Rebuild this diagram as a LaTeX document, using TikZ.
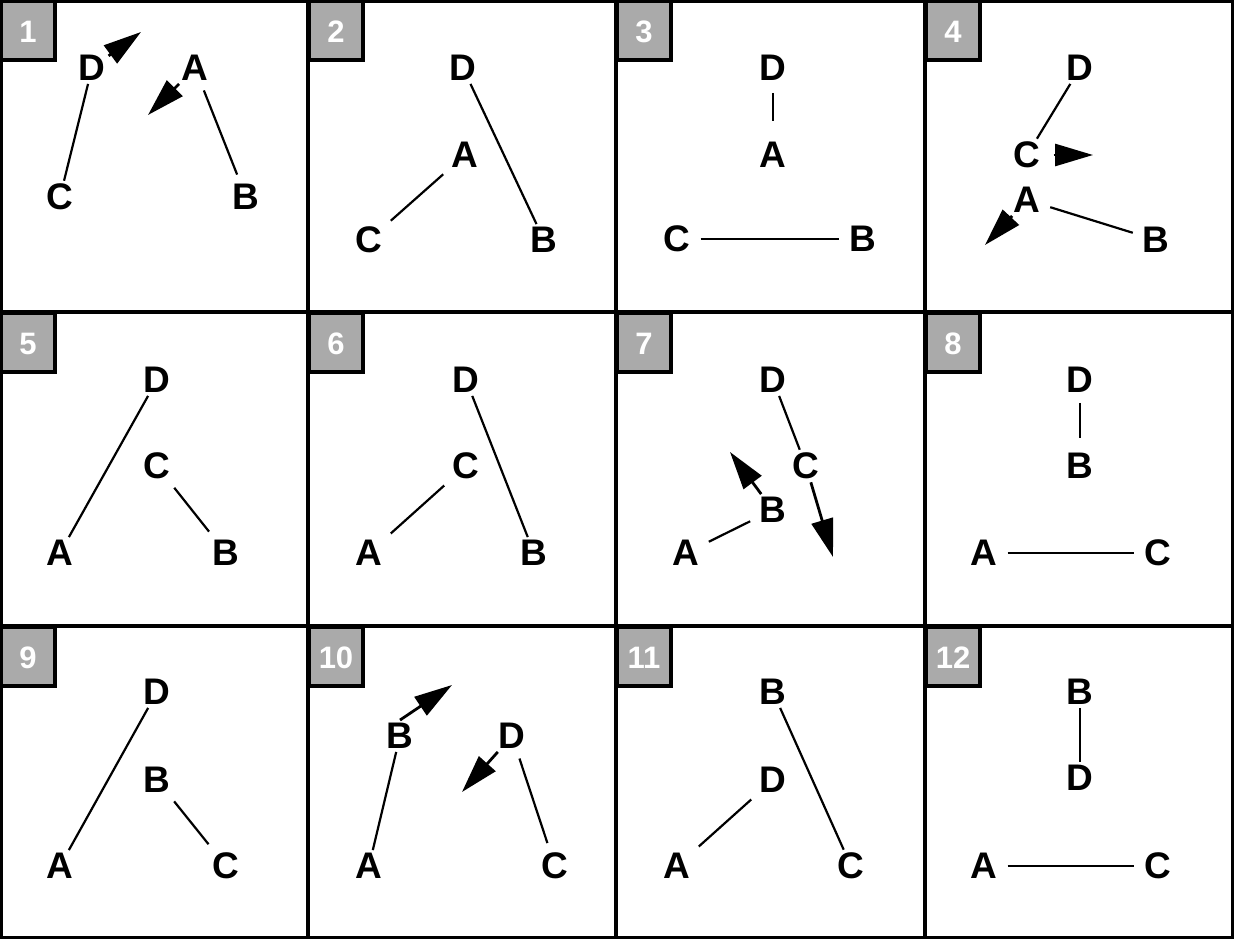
\documentclass[tikz,border=0pt]{standalone}
\usepackage{fontspec}
\setmainfont{Liberation Sans}
\usetikzlibrary{arrows.meta}
\definecolor{tabgray}{RGB}{170,170,170}

\begin{document}
\begin{tikzpicture}[
  x=1pt, y=-1pt,
  frame/.style={line width=3.2pt, black},
  tab/.style={fill=tabgray, draw=black, line width=3.5pt},
  num/.style={text=white, font=\fontsize{31}{34}\selectfont\bfseries},
  atom/.style={font=\fontsize{37}{42}\selectfont\bfseries, inner sep=3pt},
  bond/.style={line width=2.2pt, shorten <=7pt, shorten >=7pt},
  vel/.style={-{Triangle[length=38pt,width=22pt]}, line width=2.8pt}]

\useasboundingbox (0,0) rectangle (1234,939);

% ---- the twelve frames and their number tabs ---------------------------
\draw[frame] (1.6,1.6) rectangle (1232.4,937.4);
\draw[frame] (308,0)--(308,939) (616,0)--(616,939) (925,0)--(925,939)
  (0,312)--(1234,312) (0,626)--(1234,626);
\foreach \n/\px/\py in {1/0/0, 2/308/0, 3/616/0, 4/925/0,
                        5/0/312, 6/308/312, 7/616/312, 8/925/312,
                        9/0/626, 10/308/626, 11/616/626, 12/925/626}{
  \draw[tab] (\px+1.5,\py+1.5) rectangle (\px+55.2,\py+60.2);
  \node[num] at (\px+28,\py+32) {\n};}

% ---- 1 : two pairs, both flying apart ----------------------------------
\begin{scope}[shift={(0,0)}]
  \node[atom] (p1D) at ( 92, 68) {D};
  \node[atom] (p1A) at (195, 68) {A};
  \node[atom] (p1C) at ( 60,197) {C};
  \node[atom] (p1B) at (246,197) {B};
  \draw[bond] (p1D)--(p1C) (p1A)--(p1B);
  \coordinate (p1Dv) at (141, 32);
  \coordinate (p1Av) at (148,115);
  \draw[vel] (p1D)--(p1Dv);
  \draw[vel] (p1A)--(p1Av);
\end{scope}

% ---- 2 -----------------------------------------------------------------
\begin{scope}[shift={(308,0)}]
  \node[atom] (p2D) at (155, 68) {D};
  \node[atom] (p2A) at (157,155) {A};
  \node[atom] (p2C) at ( 61,240) {C};
  \node[atom] (p2B) at (236,240) {B};
  \draw[bond] (p2D)--(p2B) (p2A)--(p2C);
\end{scope}

% ---- 3 -----------------------------------------------------------------
\begin{scope}[shift={(616,0)}]
  \node[atom] (p3D) at (157, 68) {D};
  \node[atom] (p3A) at (157,155) {A};
  \node[atom] (p3C) at ( 61,239) {C};
  \node[atom] (p3B) at (247,239) {B};
  \draw[bond, shorten <=9pt, shorten >=18pt] (p3D)--(p3A);
  \draw[bond] (p3C)--(p3B);
\end{scope}

% ---- 4 -----------------------------------------------------------------
\begin{scope}[shift={(925,0)}]
  \node[atom] (p4D) at (155, 68) {D};
  \node[atom] (p4C) at (102,155) {C};
  \node[atom] (p4A) at (102,200) {A};
  \node[atom] (p4B) at (231,240) {B};
  \draw[bond] (p4D)--(p4C) (p4A)--(p4B);
  \coordinate (p4Cv) at (168,155);
  \coordinate (p4Av) at ( 60,245);
  \draw[vel, shorten <=10pt] (p4C)--(p4Cv);
  \draw[vel] (p4A)--(p4Av);
\end{scope}

% ---- 5 -----------------------------------------------------------------
\begin{scope}[shift={(0,312)}]
  \node[atom] (p5D) at (157, 68) {D};
  \node[atom] (p5C) at (157,154) {C};
  \node[atom] (p5A) at ( 60,241) {A};
  \node[atom] (p5B) at (226,241) {B};
  \draw[bond] (p5D)--(p5A) (p5C)--(p5B);
\end{scope}

% ---- 6 -----------------------------------------------------------------
\begin{scope}[shift={(308,312)}]
  \node[atom] (p6D) at (158, 68) {D};
  \node[atom] (p6C) at (158,154) {C};
  \node[atom] (p6A) at ( 61,241) {A};
  \node[atom] (p6B) at (226,241) {B};
  \draw[bond] (p6D)--(p6B) (p6C)--(p6A);
\end{scope}

% ---- 7 : the second pair flying apart ----------------------------------
\begin{scope}[shift={(616,312)}]
  \node[atom] (p7D) at (157, 68) {D};
  \node[atom] (p7C) at (190,154) {C};
  \node[atom] (p7B) at (157,198) {B};
  \node[atom] (p7A) at ( 70,241) {A};
  \draw[bond] (p7D)--(p7C) (p7A)--(p7B);
  \coordinate (p7Bv) at (114,140);
  \coordinate (p7Cv) at (217,245);
  \draw[vel] (p7B)--(p7Bv);
  \draw[vel] (p7C)--(p7Cv);
\end{scope}

% ---- 8 -----------------------------------------------------------------
\begin{scope}[shift={(925,312)}]
  \node[atom] (p8D) at (155, 68) {D};
  \node[atom] (p8B) at (155,154) {B};
  \node[atom] (p8A) at ( 59,241) {A};
  \node[atom] (p8C) at (233,241) {C};
  \draw[bond, shorten >=12pt] (p8D)--(p8B);
  \draw[bond] (p8A)--(p8C);
\end{scope}

% ---- 9 -----------------------------------------------------------------
\begin{scope}[shift={(0,626)}]
  \node[atom] (p9D) at (157, 66) {D};
  \node[atom] (p9B) at (157,154) {B};
  \node[atom] (p9A) at ( 60,240) {A};
  \node[atom] (p9C) at (226,240) {C};
  \draw[bond] (p9D)--(p9A) (p9B)--(p9C);
\end{scope}

% ---- 10 : the last pair flying apart -----------------------------------
\begin{scope}[shift={(308,626)}]
  \node[atom] (p10B) at ( 92,110) {B};
  \node[atom] (p10D) at (204,110) {D};
  \node[atom] (p10A) at ( 61,240) {A};
  \node[atom] (p10C) at (247,240) {C};
  \draw[bond] (p10B)--(p10A) (p10D)--(p10C);
  \coordinate (p10Bv) at (144, 59);
  \coordinate (p10Dv) at (154,166);
  \draw[vel] (p10B.north)--(p10Bv);
  \draw[vel] (p10D)--(p10Dv);
\end{scope}

% ---- 11 ----------------------------------------------------------------
\begin{scope}[shift={(616,626)}]
  \node[atom] (p11B) at (157, 66) {B};
  \node[atom] (p11D) at (157,154) {D};
  \node[atom] (p11A) at ( 61,240) {A};
  \node[atom] (p11C) at (235,240) {C};
  \draw[bond] (p11B)--(p11C) (p11D)--(p11A);
\end{scope}

% ---- 12 ----------------------------------------------------------------
\begin{scope}[shift={(925,626)}]
  \node[atom] (p12B) at (155, 66) {B};
  \node[atom] (p12D) at (155,152) {D};
  \node[atom] (p12A) at ( 59,240) {A};
  \node[atom] (p12C) at (233,240) {C};
  \draw[bond] (p12B)--(p12D) (p12A)--(p12C);
\end{scope}
\end{tikzpicture}
\end{document}
